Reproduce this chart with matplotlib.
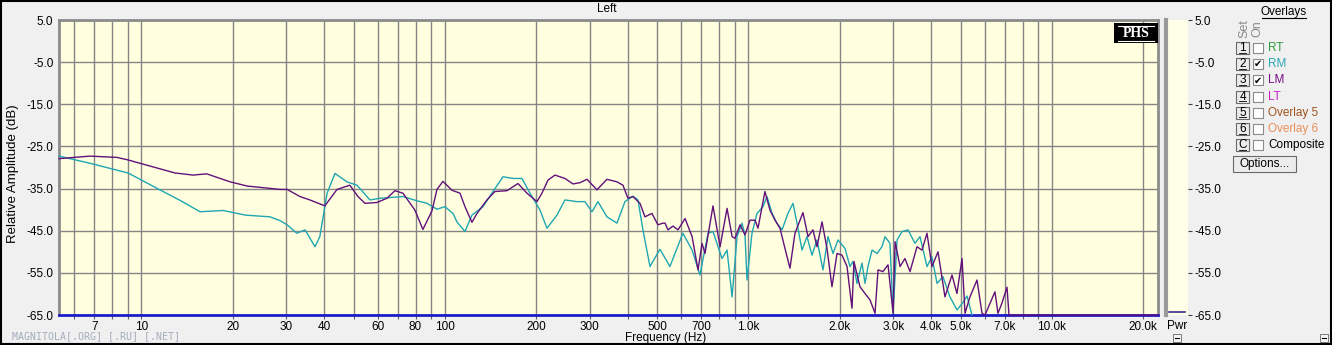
import matplotlib.pyplot as plt
from matplotlib.patches import Rectangle

plt.rcParams['font.family'] = ['Liberation Sans', 'DejaVu Sans']

# LM trace (purple)
lm_freq = [5.35, 6.77, 8.3, 9.03, 9.89, 12.9, 14.8, 16.4, 19.6, 22.3,
           28.6, 30.2, 33.3, 35.9, 40.2, 44.1, 48.6, 51.7, 54.5, 59.7,
           64.4, 68.4, 72.7, 79.6, 84.6, 90.6, 94.1, 98.5, 105.5, 112.1,
           116.4, 122.7, 127.5, 137.5, 146.1, 160.1, 174, 186.3, 201, 208.7,
           218.5, 230.4, 248.5, 264.2, 278.5, 293.8, 316.8, 341.8, 368.7, 385.9,
           400.8, 416.3, 439, 455.9, 480.8, 503.2, 522.7, 531, 543, 564,
           586, 618, 652, 682, 703, 719, 764, 806, 850, 883,
           903, 938, 974, 1012, 1051, 1075, 1133, 1177, 1223, 1270,
           1319, 1370, 1423, 1512, 1571, 1631, 1682, 1747, 1814, 1884,
           1958, 2033, 2112, 2193, 2226, 2330, 2421, 2514, 2612, 2672,
           2774, 2883, 2995, 3041, 3158, 3278, 3406, 3591, 3730, 3874,
           4023, 4212, 4440, 4683, 4863, 5054, 5170, 5367, 5662, 5881,
           6016, 6488, 6637, 6840, 7108, 7217, 22350]
lm_db = [-27.9, -27.3, -27.6, -28.2, -29.0, -31.3, -31.8, -31.5, -33.4, -34.4,
         -35.2, -35.2, -36.9, -37.7, -39.1, -35.2, -34.2, -36.9, -38.5, -38.3,
         -37.3, -35.5, -36.1, -40.1, -44.7, -40.3, -35.2, -33.3, -35.4, -36.1,
         -39.3, -43.0, -40.9, -37.7, -35.7, -35.5, -33.8, -36.1, -38.1, -36.1,
         -33.0, -31.8, -32.6, -33.9, -33.6, -32.8, -35.3, -32.8, -33.4, -34.2,
         -37.3, -36.9, -38.5, -41.7, -40.9, -43.6, -43.2, -43.2, -44.8, -43.9,
         -44.8, -42.1, -46.4, -54.3, -48.0, -50.4, -39.1, -48.8, -39.7, -46.4,
         -46.8, -43.6, -46.0, -42.5, -42.5, -44.4, -35.7, -40.1, -42.5, -44.4,
         -49.2, -53.9, -45.6, -40.7, -46.4, -44.8, -48.8, -42.9, -49.2, -58.3,
         -50.4, -50.8, -53.5, -63.4, -52.3, -58.3, -59.9, -61.4, -64.6, -54.3,
         -54.7, -53.1, -64.6, -47.6, -53.5, -51.6, -54.7, -48.8, -49.6, -45.6,
         -53.5, -50.0, -60.7, -55.5, -59.9, -51.6, -64.6, -60.7, -56.7, -64.6,
         -65.0, -59.5, -64.6, -62.2, -58.4, -65.0, -65.0]

# RM trace (cyan)
rm_freq = [5.35, 6.77, 9.03, 9.89, 11.5, 13.4, 15.6, 18.6, 22.0, 26.5,
           28.6, 30.2, 32.5, 34.6, 37.3, 38.7, 40.9, 43.4, 47.5, 51.3,
           56.6, 61.1, 72.7, 80.9, 87.2, 94.1, 100, 106.3, 109.5, 116.4,
           122.7, 133.4, 144, 155.3, 167.5, 179.4, 190.6, 205.6, 216.8, 233.9,
           248.5, 272.2, 289.2, 305.1, 319.2, 341.8, 368.7, 391.8, 416.3, 432.4,
           449.1, 473.7, 510.9, 551, 608, 652, 692, 736, 764, 818,
           850, 883, 917, 952, 974, 989, 1027, 1067, 1116, 1151,
           1196, 1241, 1290, 1349, 1402, 1445, 1501, 1559, 1619, 1682,
           1760, 1828, 1899, 1972, 2080, 2160, 2210, 2278, 2366, 2421,
           2476, 2553, 2652, 2753, 2818, 2925, 2995, 3087, 3206, 3355,
           3536, 3674, 3874, 4023, 4180, 4373, 4612, 4863, 5093, 5248,
           5451]
rm_db = [-27.3, -29.0, -31.3, -32.8, -35.3, -37.8, -40.5, -40.2, -41.3, -41.7,
         -42.6, -43.6, -45.6, -44.8, -48.8, -46.4, -36.1, -31.4, -33.4, -34.2,
         -37.7, -37.3, -36.9, -37.9, -38.5, -39.9, -39.3, -40.9, -42.9, -45.2,
         -41.3, -39.3, -35.7, -32.2, -32.6, -32.6, -36.1, -40.1, -44.4, -41.3,
         -37.7, -38.1, -38.1, -40.5, -38.1, -41.7, -43.2, -38.1, -36.8, -37.7,
         -44.8, -53.5, -49.4, -53.5, -45.6, -49.6, -55.5, -45.6, -45.2, -51.6,
         -49.6, -60.7, -46.4, -43.2, -46.0, -56.7, -45.6, -40.9, -39.3, -36.9,
         -40.9, -43.2, -44.8, -40.9, -38.5, -43.2, -49.6, -46.4, -50.8, -47.2,
         -54.3, -46.4, -50.4, -47.2, -49.2, -53.5, -52.3, -57.5, -52.7, -57.5,
         -53.5, -49.6, -50.4, -48.8, -46.4, -48.0, -64.6, -47.2, -45.2, -44.8,
         -48.0, -46.4, -53.5, -51.2, -57.5, -55.9, -60.7, -63.8, -62.0, -60.5,
         -65.0]

x_ticks = [7, 10, 20, 30, 40, 60, 80, 100, 200, 300, 500, 700,
           1000, 2000, 3000, 4000, 5000, 7000, 10000, 20000]
x_labels = ['7', '10', '20', '30', '40', '60', '80', '100', '200', '300', '500', '700',
            '1.0k', '2.0k', '3.0k', '4.0k', '5.0k', '7.0k', '10.0k', '20.0k']
y_ticks = [5, -5, -15, -25, -35, -45, -55, -65]

overlay_sets = ['1', '2', '3', '4', '5', '6', 'C']
overlay_names = ['RT', 'RM', 'LM', 'LT', 'Overlay 5', 'Overlay 6', 'Composite']
overlay_on = [False, True, True, False, False, False, False]
overlay_colors = ['#2e9a3e', '#2aa8b8', '#7a0a8a', '#c81ec8', '#a0521e', '#e8905a', '#000000']

W, H = 1332, 345
fig = plt.figure(figsize=(W / 100, H / 100), dpi=100, facecolor='#f0f0f0')


def box(x0, y0, x1, y1):
    return [x0 / W, 1 - y1 / H, (x1 - x0) / W, (y1 - y0) / H]


# main plot
ax = fig.add_axes(box(59, 20, 1158, 315))
ax.set_facecolor('#ffffe0')
ax.set_xscale('log')
ax.set_xlim(5.35, 22350)
ax.set_ylim(-65, 5)

grid_f = [m * 10 ** e for e in range(0, 5) for m in range(1, 10)]
grid_f = [f for f in grid_f if 5.4 < f < 22000]
ax.set_xticks(grid_f)
ax.set_xticklabels([x_labels[x_ticks.index(f)] if f in x_ticks else '' for f in grid_f])
ax.xaxis.set_minor_locator(plt.NullLocator())
ax.set_yticks(y_ticks)
ax.set_yticklabels(['%.1f' % v for v in y_ticks])
ax.tick_params(axis='x', length=3, color='#606060', labelsize=8.5, pad=1)
ax.tick_params(axis='y', length=0, labelsize=8.5, pad=4)
ax.grid(True, color='#858585', lw=1)
ax.set_axisbelow(True)
for s in ['left', 'top', 'right']:
    ax.spines[s].set_color('#8c8c8c')
    ax.spines[s].set_linewidth(2)
ax.spines['bottom'].set_visible(False)
ax.axhline(-65, color='#1c1cc8', lw=2, zorder=3, clip_on=False)

ax.plot(rm_freq, rm_db, color='#1fa6b2', lw=1, zorder=4, clip_on=False)
ax.plot(lm_freq, lm_db, color='#62107a', lw=1, zorder=5, clip_on=False)

# Pwr column
pw = fig.add_axes(box(1166, 20, 1188, 315))
pw.set_facecolor('#ffffe8')
pw.set_ylim(-65, 5)
pw.set_xlim(0, 1)
pw.set_xticks([])
pw.yaxis.tick_right()
pw.set_yticks(y_ticks)
pw.set_yticklabels(['%.1f' % v for v in y_ticks])
pw.tick_params(axis='y', length=3, color='#404040', labelsize=8.5, pad=2)
for s in ['top', 'right', 'bottom']:
    pw.spines[s].set_visible(False)
pw.spines['left'].set_color('#9a9a9a')
pw.spines['left'].set_linewidth(3)
pw.plot([0.15, 0.85], [-64.3, -64.3], color='#3a2a8a', lw=1.2)

# overlay layer in pixel coordinates
ov = fig.add_axes([0, 0, 1, 1])
ov.set_xlim(0, W)
ov.set_ylim(H, 0)
ov.axis('off')

ov.text(607, 9, 'Left', ha='center', va='center', fontsize=8.5)
ov.text(13, 174, 'Relative Amplitude (dB)', rotation=90, ha='center', va='center', fontsize=9.5)
ov.text(666, 338, 'Frequency (Hz)', ha='center', va='center', fontsize=8.5)
ov.text(1177, 326, 'Pwr', ha='center', va='center', fontsize=8.5)
ov.text(12, 336, 'MAGNITOLA[.ORG] [.RU] [.NET]', ha='left', va='center',
        fontsize=7.1, color='#a4acbc', family='DejaVu Sans Mono')

# PHS badge
ov.add_patch(Rectangle((1114, 23), 44, 20, facecolor='black', edgecolor='none'))
ov.text(1136, 33.5, 'PHS', color='white', ha='center', va='center', fontsize=10,
        fontweight='bold', family='Liberation Serif')
ov.plot([1118, 1154], [25.5, 25.5], color='white', lw=0.8)
ov.plot([1118, 1154], [41, 41], color='white', lw=0.8)

# overlays panel
ov.text(1284, 12, 'Overlays', ha='center', va='center', fontsize=8.5)
ov.plot([1262, 1306], [18, 18], color='black', lw=0.8)
ov.text(1244, 29, 'Set', rotation=90, ha='center', va='center', fontsize=9, color='#8a8a8a')
ov.text(1257, 29, 'On', rotation=90, ha='center', va='center', fontsize=9, color='#8a8a8a')
for i, (s, name, on, c) in enumerate(zip(overlay_sets, overlay_names, overlay_on, overlay_colors)):
    y = 48 + 16.2 * i
    ov.add_patch(Rectangle((1236, y - 6), 13, 12, facecolor='#ececec', edgecolor='#6a6a6a', lw=0.8))
    ov.text(1242.5, y, s, ha='center', va='center', fontsize=8.5)
    ov.plot([1239, 1246], [y + 4.5, y + 4.5], color='black', lw=0.6)
    ov.add_patch(Rectangle((1253, y - 5), 10, 10, facecolor='white', edgecolor='#8a8a8a', lw=0.8))
    if on:
        ov.text(1258, y, '\u2714', ha='center', va='center', fontsize=7, family='DejaVu Sans')
    ov.text(1268, y, name, ha='left', va='center', fontsize=8.5, color=c)

ov.add_patch(Rectangle((1233, 156), 63, 16, facecolor='#ececec', edgecolor='#6a6a6a', lw=0.8))
ov.text(1264.5, 164, 'Options...', ha='center', va='center', fontsize=8.5)

for bx in [1173, 1320]:
    ov.add_patch(Rectangle((bx, 334), 8, 8, facecolor='#f4f4f4', edgecolor='#7a7a7a', lw=0.7))
    ov.plot([bx + 2, bx + 6], [338, 338], color='black', lw=0.8)

ov.add_patch(Rectangle((0.5, 0.5), W - 1.5, H - 1.5, fill=False, edgecolor='black', lw=1.5))

fig.savefig('out.png', dpi=100, facecolor=fig.get_facecolor())
